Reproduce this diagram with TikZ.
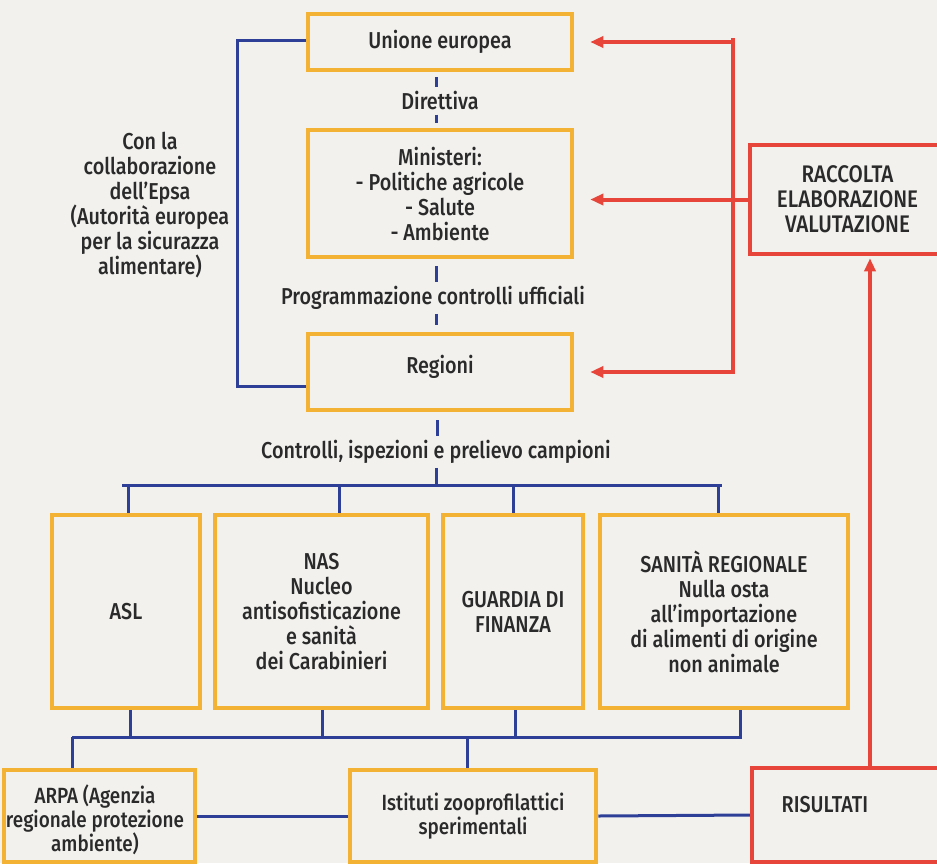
\documentclass[tikz,border=0pt]{standalone}
\usepackage{fontspec}
\setmainfont{Fira Sans Medium}[FakeStretch=0.86]
\usetikzlibrary{arrows.meta,calc}
\definecolor{bg}{HTML}{F2F1EE}
\definecolor{org}{HTML}{F3B234}
\definecolor{blu}{HTML}{2E3F98}
\definecolor{rd}{HTML}{E8453A}
\definecolor{ink}{HTML}{2A2A2A}
\begin{document}
\begin{tikzpicture}[x=1pt,y=-1pt,
  every node/.style={font=\fontsize{23}{25}\selectfont, text=ink, align=center, inner sep=0pt},
  obox/.style={draw=org, line width=4.5pt},
  rbox/.style={draw=rd, line width=4.5pt},
  bline/.style={draw=blu, line width=3pt},
  rline/.style={draw=rd, line width=4pt},
  rarr/.style={draw=rd, line width=4pt, -{Triangle[length=13pt,width=11pt]}},
  lbl/.style={}]
\fill[bg] (0,0) rectangle (937,863);
\useasboundingbox (0,0) rectangle (937,863);
\clip (0,0) rectangle (937,863);

% top column
\node[obox, minimum width=264pt, minimum height=56pt] (ue) at (440,42) {Unione europea};
\node[lbl] (dir) at (440,101) {Direttiva};
\node[obox, minimum width=264pt, minimum height=127pt, text depth=-6pt] (min) at (440,193.5) {Ministeri:\\- Politiche agricole\\- Salute\\- Ambiente};
\node[lbl] (prog) at (433,298) {Programmazione controlli ufficiali};
\node[obox, minimum width=264pt, minimum height=76pt] (reg) at (440,372) {};
\node[lbl] (regt) at (440,367) {Regioni};
\node[lbl] (ctl) at (436,452) {Controlli, ispezioni e prelievo campioni};

% left note
\node[lbl] (epsa) at (150,205) {Con la\\collaborazione\\dell’Epsa\\(Autorità europea\\per la sicurazza\\alimentare)};

% raccolta
\node[rbox, minimum width=195pt, minimum height=109pt, font=\fontsize{24}{25}\selectfont] (racc) at (847.5,199.5) {RACCOLTA\\ELABORAZIONE\\VALUTAZIONE};

% middle row
\node[obox, minimum width=148pt, minimum height=193pt] (asl) at (126,611.5) {ASL};
\node[obox, minimum width=213pt, minimum height=193pt] (nas) at (321.5,611.5) {NAS\\Nucleo\\antisofisticazione\\e sanità\\dei Carabinieri};
\node[obox, minimum width=140pt, minimum height=193pt] (gdf) at (513,611.5) {GUARDIA DI\\FINANZA};
\node[obox, minimum width=248pt, minimum height=193pt] (san) at (724,611.5) {SANITÀ REGIONALE\\Nulla osta\\all’importazione\\di alimenti di origine\\non animale};

% bottom row
\node[obox, minimum width=191pt, minimum height=92pt] (arpa) at (99.5,816) {};
\node[lbl, font=\fontsize{22}{24}\selectfont] (arpat) at (95,820) {ARPA (Agenzia\\regionale protezione\\ambiente)};
\node[obox, minimum width=246pt, minimum height=92pt, font=\fontsize{22}{24}\selectfont] (ist) at (473,816) {Istituti zooprofilattici\\sperimentali};
\node[rbox, minimum width=193pt, minimum height=94pt] (ris) at (848.5,815) {};
\node[lbl] (rist) at (825,805) {RISULTATI};

% blue connectors, top
\draw[bline, shorten <=5pt, shorten >=4pt] ($(ue.south)+(-4,0)$) -- ($(ue.south |- dir.north)+(-4,0)$);
\draw[bline, shorten <=4pt, shorten >=5pt] ($(dir.south)+(-4,0)$) -- ($(min.north)+(-4,0)$);
\draw[bline, shorten <=7pt, shorten >=4pt] ($(min.south)+(-4,0)$) -- ($(min.south |- prog.north)+(-4,0)$);
\draw[bline, shorten <=4pt, shorten >=7pt] ($(min.south |- prog.south)+(-4,0)$) -- ($(reg.north)+(-4,0)$);
\draw[bline] ($(ue.west)+(0,-2)$) -- ++(-68,0) |- ($(reg.west)+(0,14)$);
\draw[bline, shorten <=8pt, shorten >=4pt] ($(reg.south)+(-3,0)$) -- ($(reg.south |- ctl.north)+(-3,0)$);

% upper bus
\coordinate (bl1) at (122,485);
\coordinate (br1) at (722,485);
\draw[bline] (bl1) -- (br1);
\draw[bline, shorten <=4pt] (ctl.south) -- (ctl.south |- bl1);
\draw[bline] ($(asl.north)+(2,0)$) -- ($(asl.north |- bl1)+(2,0)$);
\draw[bline] ($(nas.north)+(18,0)$) -- ($(nas.north |- bl1)+(18,0)$);
\draw[bline] (gdf.north) -- (gdf.north |- bl1);
\draw[bline] ($(san.north)+(-6,0)$) -- ($(san.north |- bl1)+(-6,0)$);

% lower bus
\coordinate (bl2) at (72,737);
\coordinate (br2) at (742,737);
\draw[bline] (bl2) -- (br2);
\draw[bline] ($(asl.south)+(4,0)$) -- ($(asl.south |- bl2)+(4,0)$);
\draw[bline] ($(nas.south)+(1,0)$) -- ($(nas.south |- bl2)+(1,0)$);
\draw[bline] ($(gdf.south)+(2,0)$) -- ($(gdf.south |- bl2)+(2,0)$);
\draw[bline] ($(san.south)+(16,0)$) -- ($(san.south |- bl2)+(16,0)$);
\draw[bline] (bl2) -- (bl2 |- arpa.north);
\draw[bline] ($(ist.north)+(-6,0)$) -- ($(ist.north |- bl2)+(-6,0)$);
\draw[bline] (arpa.east) -- (ist.west);
\draw[bline] (ist.east) -- (ris.west);

% red connectors
\coordinate (rv) at (733,0);
\draw[rline] ($(ue.east -| rv)+(0,-4)$) -- ($(reg.east -| rv)+(0,2)$);
\draw[rarr, shorten >=16pt] (ue.east -| rv) -- (ue.east);
\draw[rarr, shorten >=16pt] (racc.west) -- (racc.west -| min.east);
\draw[rarr, shorten >=16pt] (reg.east -| rv) -- (reg.east);
\draw[rarr] ($(ris.north)+(21.5,0)$) -- ($(racc.south)+(22.5,2)$);
\end{tikzpicture}
\end{document}
